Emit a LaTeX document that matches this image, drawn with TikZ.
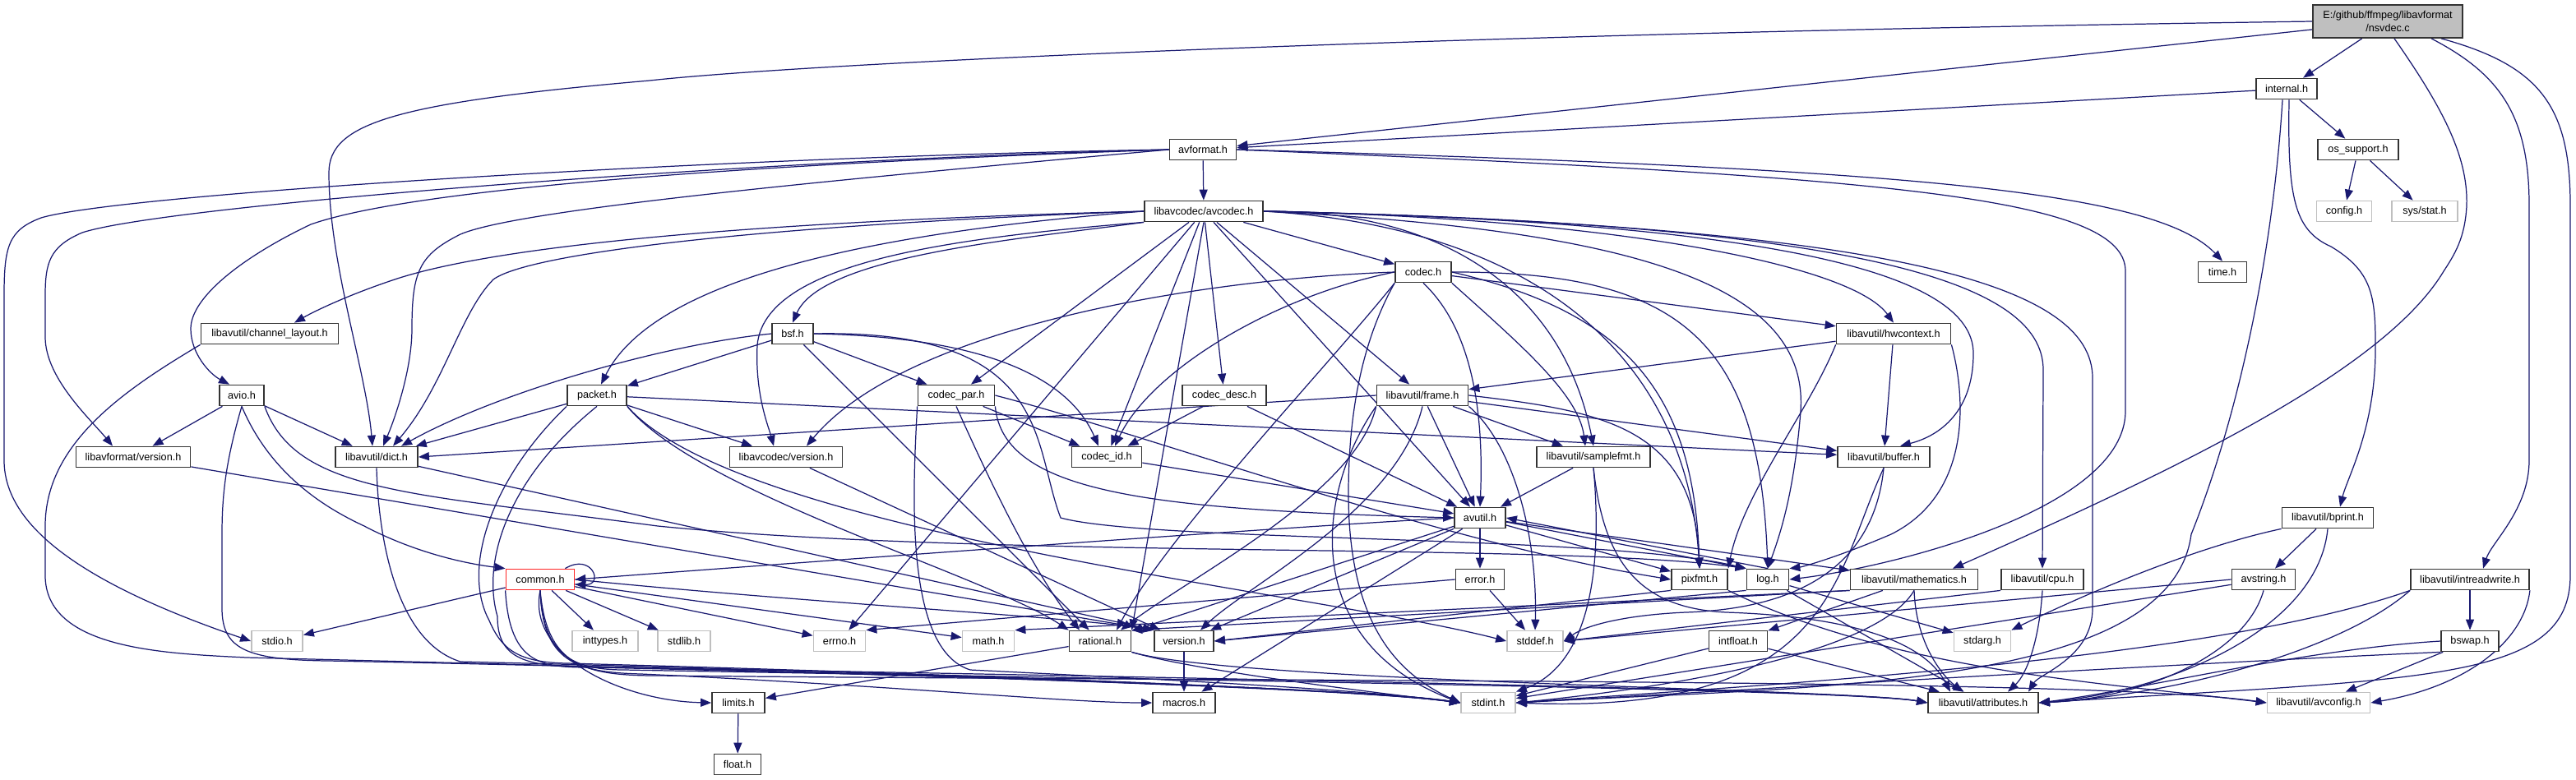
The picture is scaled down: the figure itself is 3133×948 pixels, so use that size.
\documentclass[tikz,border=0pt]{standalone}
\usepackage{fontspec}
\setmainfont{Liberation Sans}
\usepackage{xcolor}
\usepackage{tikz}
\usetikzlibrary{arrows.meta}

\definecolor{edgeblue}{HTML}{191970}
\definecolor{sysgray}{HTML}{BFBFBF}

\pgfdeclarelayer{canvas}
\pgfdeclarelayer{wires}
\pgfsetlayers{canvas,wires,main}

\begin{document}
\begin{tikzpicture}[
        x=0.1mm, y=-0.1mm,
        font=\fontsize{3.6pt}{4.3pt}\selectfont,
        >={Triangle[length=1.3mm, width=1mm]},
        hdr/.style={
            draw=black!80, fill=white, line width=0.5pt,
            minimum width=#1, minimum height=2.5mm,
            inner sep=0pt
        },
        sysh/.style={hdr=#1, draw=sysgray},
        trunc/.style={hdr=#1, draw=red!85},
        srcf/.style={hdr=#1, fill=sysgray, minimum height=4mm, align=center},
        dep/.style={->, draw=edgeblue, line width=0.35pt},
    ]

    \begin{pgfonlayer}{canvas}
        \fill[white] (0,0) rectangle (3133,948);
    \end{pgfonlayer}
    \useasboundingbox (0,0) rectangle (3133,948);

    %============================================================
    % Source file and libavformat headers
    %============================================================
    \node[srcf=18.2mm] (NSVDEC)   at (2904,26)  {E:/github/ffmpeg/libavformat\\/nsvdec.c};
    \node[hdr=7.4mm]   (INTERNAL) at (2781,108) {internal.h};
    \node[hdr=8.1mm]   (AVFORMAT) at (1463,182) {avformat.h};
    \node[hdr=9.8mm]   (OSSUP)    at (2868,182) {os\_support.h};
    \node[sysh=6.7mm]  (CONFIG)   at (2851,257) {config.h};
    \node[sysh=8.0mm]  (SYSSTAT)  at (2949,257) {sys/stat.h};
    \node[hdr=5.9mm]   (TIME)     at (2703,331) {time.h};
    \node[hdr=5.4mm]   (AVIO)     at (294,481)  {avio.h};
    \node[hdr=13.9mm]  (LAVFVER)  at (162,556)  {libavformat/version.h};

    %============================================================
    % libavcodec headers
    %============================================================
    \node[hdr=14.4mm]  (AVCODEC)  at (1464,257) {libavcodec/avcodec.h};
    \node[hdr=6.8mm]   (CODEC)    at (1731,331) {codec.h};
    \node[hdr=5.0mm]   (BSF)      at (964,406)  {bsf.h};
    \node[hdr=7.2mm]   (PACKET)   at (726,481)  {packet.h};
    \node[hdr=9.3mm]   (CPAR)     at (1163,481) {codec\_par.h};
    \node[hdr=10.2mm]  (CDESC)    at (1489,481) {codec\_desc.h};
    \node[hdr=13.7mm]  (LAVCVER)  at (956,556)  {libavcodec/version.h};
    \node[hdr=8.5mm]   (CID)      at (1346,556) {codec\_id.h};

    %============================================================
    % libavutil headers
    %============================================================
    \node[hdr=16.7mm]  (CHLAY)    at (328,406)  {libavutil/channel\_layout.h};
    \node[hdr=13.9mm]  (HWCTX)    at (2303,406) {libavutil/hwcontext.h};
    \node[hdr=11.1mm]  (FRAME)    at (1730,481) {libavutil/frame.h};
    \node[hdr=10.0mm]  (DICT)     at (458,556)  {libavutil/dict.h};
    \node[hdr=13.8mm]  (SFMT)     at (1938,556) {libavutil/samplefmt.h};
    \node[hdr=11.2mm]  (BUFFER)   at (2291,556) {libavutil/buffer.h};
    \node[hdr=6.2mm]   (AVUTIL)   at (1800,630) {avutil.h};
    \node[hdr=11.1mm]  (BPRINT)   at (2831,630) {libavutil/bprint.h};
    \node[trunc=8.3mm] (COMMON)   at (657,705)  {common.h};
    \node[hdr=5.9mm]   (ERROR)    at (1800,705) {error.h};
    \node[hdr=6.8mm]   (PIXFMT)   at (2067,705) {pixfmt.h};
    \node[hdr=5.1mm]   (LOG)      at (2150,705) {log.h};
    \node[hdr=15.5mm]  (MATHS)    at (2328,705) {libavutil/mathematics.h};
    \node[hdr=10.0mm]  (CPU)      at (2484,705) {libavutil/cpu.h};
    \node[hdr=7.7mm]   (AVSTR)    at (2753,705) {avstring.h};
    \node[hdr=14.4mm]  (IRW)      at (3004,705) {libavutil/intreadwrite.h};
    \node[hdr=7.5mm]   (RATIONAL) at (1338,780) {rational.h};
    \node[hdr=7.2mm]   (VERSION)  at (1440,780) {version.h};
    \node[hdr=7.1mm]   (INTFLOAT) at (2114,780) {intfloat.h};
    \node[hdr=7.0mm]   (BSWAP)    at (3004,780) {bswap.h};
    \node[hdr=6.4mm]   (LIMITS)   at (898,855)  {limits.h};
    \node[hdr=7.6mm]   (MACROS)   at (1440,855) {macros.h};
    \node[hdr=13.4mm]  (ATTR)     at (2412,855) {libavutil/attributes.h};
    \node[sysh=12.5mm] (AVCONF)   at (2820,855) {libavutil/avconfig.h};
    \node[hdr=5.7mm]   (FLOAT)    at (897,930)  {float.h};

    %============================================================
    % System headers
    %============================================================
    \node[sysh=6.2mm]  (STDIO)    at (337,780)  {stdio.h};
    \node[sysh=8.0mm]  (INTTYPES) at (736,780)  {inttypes.h};
    \node[sysh=6.4mm]  (STDLIB)   at (832,780)  {stdlib.h};
    \node[sysh=6.3mm]  (ERRNO)    at (1021,780) {errno.h};
    \node[sysh=6.3mm]  (MATH)     at (1202,780) {math.h};
    \node[sysh=6.8mm]  (STDDEF)   at (1867,780) {stddef.h};
    \node[sysh=6.9mm]  (STDARG)   at (2411,780) {stdarg.h};
    \node[sysh=6.6mm]  (STDINT)   at (1810,855) {stdint.h};

    \begin{pgfonlayer}{wires}
    %============================================================
    % Short include edges
    %============================================================
    \foreach \a/\b in {NSVDEC/INTERNAL, NSVDEC/AVFORMAT, INTERNAL/AVFORMAT,
            INTERNAL/OSSUP, OSSUP/CONFIG, OSSUP/SYSSTAT, AVFORMAT/AVCODEC,
            AVCODEC/CODEC, AVCODEC/FRAME, AVCODEC/CPAR, AVCODEC/CID,
            AVCODEC/CDESC, AVCODEC/AVUTIL, AVCODEC/ERRNO, CODEC/HWCTX,
            BSF/PACKET, BSF/CPAR, BSF/RATIONAL, HWCTX/FRAME, HWCTX/BUFFER,
            AVIO/DICT, AVIO/LAVFVER, PACKET/DICT, PACKET/LAVCVER, PACKET/BUFFER,
            CPAR/CID, CDESC/CID, CDESC/AVUTIL, CID/AVUTIL, LAVCVER/VERSION,
            FRAME/BUFFER, FRAME/SFMT, FRAME/AVUTIL, SFMT/AVUTIL,
            AVUTIL/ERROR, AVUTIL/RATIONAL, AVUTIL/VERSION, AVUTIL/MACROS,
            AVUTIL/MATHS, AVUTIL/PIXFMT, BPRINT/AVSTR,
            COMMON/STDIO, COMMON/INTTYPES, COMMON/STDLIB, COMMON/ERRNO, COMMON/MATH,
            ERROR/STDDEF, LOG/ATTR, LOG/STDARG, MATHS/INTFLOAT, AVSTR/STDINT,
            IRW/BSWAP, RATIONAL/LIMITS, VERSION/MACROS, INTFLOAT/STDINT,
            INTFLOAT/ATTR, BSWAP/AVCONF, LIMITS/FLOAT}{
        \draw[dep] (\a) -- (\b);
    }
    \draw[dep] (LAVFVER) -- (VERSION.north west);
    \draw[dep] (DICT) -- (VERSION.north west);

    %============================================================
    % nsvdec.c and internal.h
    %============================================================
    \draw[dep] (NSVDEC.west) .. controls (1800,40) and (1000,75) .. (790,98)
        .. controls (480,125) and (400,150) .. (400,210)
        .. controls (400,320) and (445,450) .. ([xshift=-0.5mm]DICT.north);
    \draw[dep] ([xshift=0.8mm]NSVDEC.south) .. controls (2970,130) and (3002,190) .. (3000,250)
        .. controls (2998,290) and (2985,310) .. (2972,330)
        .. controls (2900,450) and (2650,570) .. ([xshift=4.7mm]MATHS.north);
    \draw[dep] ([xshift=5.3mm]NSVDEC.south) .. controls (3040,90) and (3076,140) .. (3076,250)
        -- (3076,560) .. controls (3076,620) and (3030,660) .. ([xshift=1.6mm]IRW.north);
    \draw[dep] ([xshift=6.5mm]NSVDEC.south) .. controls (3090,80) and (3126,130) .. (3126,250)
        -- (3126,700) .. controls (3126,830) and (2950,825) .. (ATTR.east);
    \draw[dep] ([xshift=0.3mm]INTERNAL.south) .. controls (2782,240) and (2790,280) .. (2835,300)
        .. controls (2885,330) and (2889,360) .. (2889,420)
        .. controls (2890,520) and (2855,580) .. ([xshift=1.5mm]BPRINT.north);
    \draw[dep] ([xshift=-0.5mm]INTERNAL.south) .. controls (2765,300) and (2725,500) .. (2665,650)
        .. controls (2640,840) and (2200,835) .. (STDINT.east);

    %============================================================
    % avformat.h
    %============================================================
    \draw[dep] (AVFORMAT.west) .. controls (900,190) and (150,235) .. (50,265)
        .. controls (10,280) and (5,300) .. (5,360) -- (5,560)
        .. controls (5,640) and (100,710) .. (STDIO.west);
    \draw[dep] (AVFORMAT.west) .. controls (900,195) and (200,250) .. (100,283)
        .. controls (60,300) and (55,320) .. (55,360) -- (55,410)
        .. controls (55,460) and (110,510) .. ([xshift=-2.5mm]LAVFVER.north);
    \draw[dep] (AVFORMAT.west) .. controls (900,200) and (500,230) .. (378,273)
        .. controls (300,310) and (232,360) .. (232,400)
        .. controls (232,430) and (255,455) .. ([xshift=-1.5mm]AVIO.north);
    \draw[dep] (AVFORMAT.west) .. controls (1000,220) and (630,255) .. (560,285)
        .. controls (510,310) and (501,330) .. (501,400)
        .. controls (501,450) and (480,510) .. ([xshift=0.8mm]DICT.north);
    \draw[dep] (AVFORMAT.east) .. controls (2300,205) and (2620,230) .. (TIME.north);
    \draw[dep] (AVFORMAT.east) .. controls (2300,215) and (2585,240) .. (2585,330) -- (2585,500)
        .. controls (2585,620) and (2300,690) .. (LOG.east);

    %============================================================
    % libavcodec/avcodec.h
    %============================================================
    \draw[dep] (AVCODEC.west) .. controls (900,270) and (600,300) .. (480,340)
        .. controls (420,360) and (380,380) .. ([xshift=3mm]CHLAY.north);
    \draw[dep] (AVCODEC.west) .. controls (900,275) and (640,310) .. (600,340)
        .. controls (560,380) and (540,470) .. ([xshift=2mm]DICT.north);
    \draw[dep] (AVCODEC.west) .. controls (1100,280) and (800,330) .. ([xshift=0.5mm]PACKET.north);
    \draw[dep] (AVCODEC.south west) .. controls (1150,290) and (930,320) .. (921,420)
        .. controls (918,480) and (935,520) .. ([xshift=-1.5mm]LAVCVER.north);
    \draw[dep] (AVCODEC.south west) .. controls (1250,290) and (1000,310) .. (BSF.north);
    \draw[dep] (AVCODEC.south) -- (RATIONAL.north east);
    \draw[dep] (AVCODEC.east) .. controls (1750,255) and (1900,350) .. (SFMT.north);
    \draw[dep] (AVCODEC.east) .. controls (1850,275) and (2050,420) .. (PIXFMT.north);
    \draw[dep] (AVCODEC.east) .. controls (2000,280) and (2200,350) .. (2190,500)
        .. controls (2182,600) and (2165,650) .. (LOG.north);
    \draw[dep] (AVCODEC.east) .. controls (1950,265) and (2250,320) .. (HWCTX.north);
    \draw[dep] (AVCODEC.east) .. controls (2150,270) and (2400,330) .. (2400,430)
        .. controls (2400,500) and (2360,530) .. ([xshift=2mm]BUFFER.north);
    \draw[dep] (AVCODEC.east) .. controls (2250,272) and (2485,340) .. (2485,450) -- (CPU.north);
    \draw[dep] (AVCODEC.east) .. controls (2300,275) and (2545,345) .. (2545,460) -- (2545,740)
        .. controls (2545,800) and (2480,820) .. ([xshift=5.5mm]ATTR.north);

    %============================================================
    % codec.h, bsf.h
    %============================================================
    \draw[dep] (CODEC.south) .. controls (1790,400) and (1805,500) .. (AVUTIL.north);
    \draw[dep] (CODEC.south east) .. controls (1850,420) and (1920,480) .. ([xshift=-1mm]SFMT.north);
    \draw[dep] (CODEC.east) .. controls (2050,330) and (2140,420) .. (LOG.north);
    \draw[dep] (CODEC.east) .. controls (1980,380) and (2060,480) .. (PIXFMT.north);
    \draw[dep] (CODEC.south west) .. controls (1665,400) and (1640,480) .. (1640,600)
        .. controls (1640,760) and (1700,820) .. (STDINT.west);
    \draw[dep] (CODEC.south west) .. controls (1620,440) and (1420,650) .. ([xshift=2mm]RATIONAL.north);
    \draw[dep] (CODEC.west) .. controls (1550,360) and (1400,450) .. ([xshift=1mm]CID.north);
    \draw[dep] (CODEC.west) .. controls (1450,340) and (1100,400) .. ([xshift=2.5mm]LAVCVER.north);

    \draw[dep] (BSF.west) .. controls (800,420) and (600,480) .. ([xshift=3mm]DICT.north);
    \draw[dep] (BSF.east) .. controls (1200,410) and (1300,460) .. ([xshift=-1mm]CID.north);
    \draw[dep] (BSF.east) .. controls (1280,400) and (1255,540) .. (1290,630)
        .. controls (1400,660) and (1950,650) .. (LOG.north west);

    %============================================================
    % hwcontext.h, channel_layout.h, avio.h
    %============================================================
    \draw[dep] (HWCTX.south east) .. controls (2390,480) and (2400,600) .. (2300,650)
        .. controls (2230,680) and (2190,690) .. (LOG.north east);
    \draw[dep] (HWCTX.south west) .. controls (2200,500) and (2120,600) .. (PIXFMT.north east);

    \draw[dep] (CHLAY.south west) .. controls (150,475) and (55,540) .. (55,640) -- (55,700)
        .. controls (55,790) and (200,795) .. (300,800)
        .. controls (900,815) and (1650,835) .. (STDINT.west);

    \draw[dep] (AVIO.south) .. controls (275,560) and (270,600) .. (270,650) -- (270,740)
        .. controls (270,790) and (300,803) .. (400,804)
        .. controls (1000,816) and (1650,836) .. (STDINT.west);
    \draw[dep] (AVIO.south) .. controls (330,580) and (400,620) .. (443,640)
        .. controls (500,670) and (560,685) .. (COMMON.north west);
    \draw[dep] (AVIO.south east) .. controls (360,600) and (500,600) .. (800,640)
        .. controls (1200,680) and (1900,660) .. (LOG.north west);

    %============================================================
    % packet.h, codec_par.h, dict.h
    %============================================================
    \draw[dep] (PACKET.south east) .. controls (850,600) and (1200,700) .. (RATIONAL.north west);
    \draw[dep] (PACKET.south east) .. controls (900,650) and (1600,720) .. (STDDEF.west);
    \draw[dep] (PACKET.south west) .. controls (600,580) and (560,690) .. (595,755)
        .. controls (610,790) and (630,806) .. (690,807)
        .. controls (1100,818) and (1650,838) .. (STDINT.west);
    \draw[dep] (PACKET.south) .. controls (620,580) and (585,680) .. (605,750)
        .. controls (605,795) and (630,810) .. (700,811)
        .. controls (1300,822) and (2250,838) .. (ATTR.west);

    \draw[dep] (CPAR.south) .. controls (1210,600) and (1260,700) .. ([xshift=-2.5mm]RATIONAL.north);
    \draw[dep] (CPAR.south west) .. controls (1110,600) and (1100,790) .. (1180,815)
        .. controls (1400,826) and (1650,838) .. (STDINT.west);
    \draw[dep] (CPAR.south east) .. controls (1220,600) and (1400,620) .. (AVUTIL.west);
    \draw[dep] (CPAR.east) .. controls (1400,530) and (1750,660) .. (PIXFMT.west);

    \draw[dep] (DICT.south) .. controls (460,650) and (480,780) .. (560,805)
        .. controls (1050,817) and (1650,837) .. (STDINT.west);

    %============================================================
    % frame.h, samplefmt.h, buffer.h
    %============================================================
    \draw[dep] (FRAME.west) -- (DICT.east);
    \draw[dep] (FRAME.east) .. controls (1950,500) and (2060,520) .. (PIXFMT.north);
    \draw[dep] (FRAME.south east) .. controls (1840,540) and (1870,650) .. (STDDEF.north);
    \draw[dep] (FRAME.south west) .. controls (1600,600) and (1580,780) .. (STDINT.west);
    \draw[dep] (FRAME.south west) .. controls (1650,600) and (1450,700) .. ([xshift=2.5mm]RATIONAL.north);
    \draw[dep] (FRAME.south) .. controls (1700,620) and (1520,710) .. ([xshift=2mm]VERSION.north);

    \draw[dep] (SFMT.south) .. controls (1950,700) and (1930,810) .. (STDINT.north east);
    \draw[dep] (SFMT.south) .. controls (1950,680) and (1990,740) .. (2100,745)
        .. controls (2250,750) and (2340,780) .. ([xshift=-4mm]ATTR.north);

    \draw[dep] (BUFFER.south) .. controls (2280,680) and (2200,740) .. (2050,745)
        .. controls (1980,748) and (1930,760) .. (STDDEF.east);
    \draw[dep] (BUFFER.south) .. controls (2230,700) and (2230,870) .. (STDINT.east);

    %============================================================
    % avutil.h, bprint.h, common.h
    %============================================================
    \draw[dep] (AVUTIL.west) .. controls (1500,645) and (900,690) .. (COMMON.east);
    \draw[dep] ([yshift=-0.5mm]AVUTIL.east) -- (LOG.north west);
    \draw[dep] (LOG.north) -- (AVUTIL.east);

    \draw[dep] (BPRINT.south west) .. controls (2650,670) and (2500,740) .. (STDARG.north east);
    \draw[dep] (BPRINT.south) .. controls (2820,760) and (2650,840) .. (ATTR.east);

    \draw[dep] ([xshift=-1.2mm]COMMON.north east) .. controls (720,672) and (735,712) .. ([yshift=-0.6mm]COMMON.east);
    \draw[dep] (COMMON.south) .. controls (640,800) and (760,853) .. (LIMITS.west);
    \draw[dep] (COMMON.south west) .. controls (620,810) and (660,812) .. (720,812)
        .. controls (1100,820) and (1650,838) .. (STDINT.west);
    \draw[dep] (COMMON.south) .. controls (660,800) and (700,815) .. (760,815)
        .. controls (1300,825) and (2250,838) .. (ATTR.west);
    \draw[dep] (COMMON.south) .. controls (660,805) and (700,818) .. (780,820)
        .. controls (1100,835) and (1300,855) .. (MACROS.west);
    \draw[dep] (COMMON.south) .. controls (665,810) and (710,822) .. (800,822)
        .. controls (1600,830) and (2550,825) .. (AVCONF.west);
    \draw[dep] (COMMON.east) .. controls (1000,735) and (1300,750) .. (VERSION.north west);

    %============================================================
    % error.h, pixfmt.h, log.h, mathematics.h, cpu.h, avstring.h
    %============================================================
    \draw[dep] (ERROR.west) -- (ERRNO.north east);
    \draw[dep] (PIXFMT.south west) -- (VERSION.east);
    \draw[dep] (PIXFMT.south east) .. controls (2300,815) and (2550,830) .. (AVCONF.west);
    \draw[dep] (LOG.south west) -- (VERSION.east);

    \draw[dep] (MATHS.south west) -- (MATH.north east);
    \draw[dep] (MATHS.south west) -- (RATIONAL.north east);
    \draw[dep] (MATHS.south) .. controls (2280,800) and (2000,840) .. (STDINT.east);
    \draw[dep] (MATHS.south) .. controls (2330,780) and (2360,820) .. ([xshift=-2.5mm]ATTR.north);

    \draw[dep] (CPU.south west) -- (STDDEF.east);
    \draw[dep] (CPU.south) .. controls (2480,780) and (2465,820) .. ([xshift=3mm]ATTR.north);

    \draw[dep] (AVSTR.west) -- (STDDEF.east);
    \draw[dep] (AVSTR.south) .. controls (2730,800) and (2600,850) .. (ATTR.east);

    %============================================================
    % intreadwrite.h, bswap.h, rational.h
    %============================================================
    \draw[dep] (IRW.south east) .. controls (3070,780) and (3000,835) .. (AVCONF.east);
    \draw[dep] (IRW.south west) .. controls (2850,790) and (2650,845) .. (ATTR.east);
    \draw[dep] (IRW.south west) .. controls (2700,800) and (2200,830) .. (STDINT.east);

    \draw[dep] (BSWAP.west) .. controls (2800,790) and (2600,840) .. (ATTR.east);
    \draw[dep] (BSWAP.south west) .. controls (2600,810) and (2200,835) .. (STDINT.east);

    \draw[dep] (RATIONAL.south east) .. controls (1450,815) and (1650,840) .. (STDINT.west);
    \draw[dep] (RATIONAL.south east) .. controls (1500,830) and (2250,838) .. (ATTR.west);
    \end{pgfonlayer}

\end{tikzpicture}
\end{document}
